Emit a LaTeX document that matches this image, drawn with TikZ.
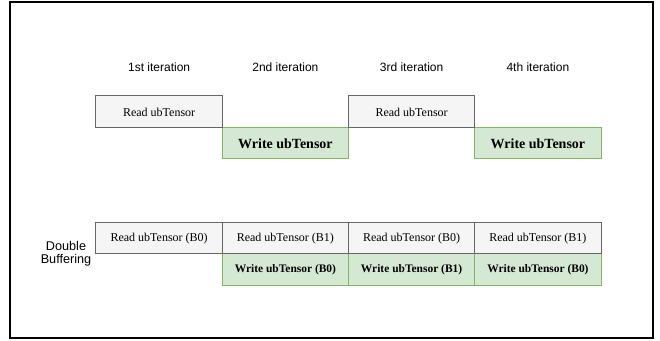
\documentclass[tikz,border=0pt]{standalone}
\usepackage{fontspec}
\setmainfont{Liberation Serif}
\newfontfamily\labelfont{Liberation Sans}
\definecolor{readfill}{HTML}{F5F5F5}
\definecolor{readline}{HTML}{666666}
\definecolor{writefill}{HTML}{D5E8D4}
\definecolor{writeline}{HTML}{82B366}
\begin{document}
\begin{tikzpicture}[x=0.75pt,y=-0.75pt,
  cell/.style={rectangle,inner sep=0pt,line width=0.75pt,minimum width=94.6875pt,anchor=center},
  readbox/.style={cell,fill=readfill,draw=readline,font=\fontsize{9}{10}\selectfont},
  writebox/.style={cell,fill=writefill,draw=writeline,font=\fontsize{10.5}{12}\selectfont\bfseries},
  writeboxsmall/.style={cell,fill=writefill,draw=writeline,font=\fontsize{8.6}{10}\selectfont\bfseries},
  iterlabel/.style={font=\labelfont\fontsize{9}{10}\selectfont,inner sep=0pt},
  sidelabel/.style={font=\labelfont\fontsize{9.5}{11}\selectfont,align=center,inner sep=0pt}]
\useasboundingbox (0,0) rectangle (660,341);
\node[draw=black,line width=0.9pt,minimum width=482.25pt,minimum height=252pt,inner sep=0pt] (frame) at (331.5,170) {};
% iteration labels
\node[iterlabel] (it1) at (159.1,67) {1st iteration};
\node[iterlabel] (it2) at (285.4,67) {2nd iteration};
\node[iterlabel] (it3) at (411.6,67) {3rd iteration};
\node[iterlabel] (it4) at (537.9,67) {4th iteration};
% top sequence
\node[writebox,minimum height=23.25pt] (w2) at (285.4,143.5) {Write ubTensor};
\node[writebox,minimum height=23.25pt] (w4) at (537.9,143.5) {Write ubTensor};
\node[readbox,minimum height=24pt] (r1) at (159.1,112) {Read ubTensor};
\node[readbox,minimum height=24pt] (r3) at (411.6,112) {Read ubTensor};
% double buffering
\node[sidelabel] (db) at (66,254) {Double\\[-1.5pt]Buffering};
\node[writeboxsmall,minimum height=24pt] (dw2) at (285.4,270) {Write ubTensor (B0)};
\node[writeboxsmall,minimum height=24pt] (dw3) at (411.6,270) {Write ubTensor (B1)};
\node[writeboxsmall,minimum height=24pt] (dw4) at (537.9,270) {Write ubTensor (B0)};
\node[readbox,minimum height=23.25pt] (dr1) at (159.1,238.5) {Read ubTensor (B0)};
\node[readbox,minimum height=23.25pt] (dr2) at (285.4,238.5) {Read ubTensor (B1)};
\node[readbox,minimum height=23.25pt] (dr3) at (411.6,238.5) {Read ubTensor (B0)};
\node[readbox,minimum height=23.25pt] (dr4) at (537.9,238.5) {Read ubTensor (B1)};
\end{tikzpicture}
\end{document}
